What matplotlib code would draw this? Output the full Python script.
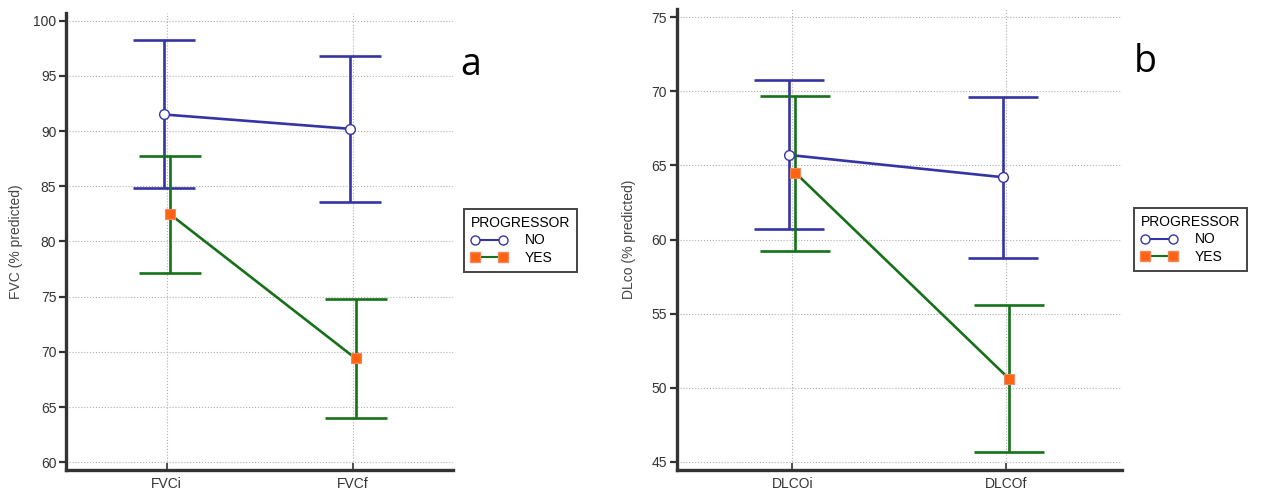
import matplotlib.pyplot as plt
import numpy as np
from matplotlib.lines import Line2D

plt.rcParams['font.family'] = ['Liberation Sans', 'DejaVu Sans']

# data (mean with lower / upper interval ends)
fvc_cats = ['FVCi', 'FVCf']
fvc_no_mean = [91.5, 90.2]
fvc_no_lo = [84.8, 83.55]
fvc_no_hi = [98.2, 96.8]
fvc_yes_mean = [82.5, 69.4]
fvc_yes_lo = [77.1, 64.0]
fvc_yes_hi = [87.7, 74.8]

dlco_cats = ['DLCOi', 'DLCOf']
dlco_no_mean = [65.7, 64.2]
dlco_no_lo = [60.7, 58.75]
dlco_no_hi = [70.75, 69.6]
dlco_yes_mean = [64.5, 50.6]
dlco_yes_lo = [59.25, 45.7]
dlco_yes_hi = [69.7, 55.6]

group_labels = ['NO', 'YES']

BLUE = '#3434a4'
GREEN = '#17701a'
ORANGE = '#ff6310'
SPINE = '#333333'


def draw_panel(ax, cats, no_mean, no_lo, no_hi, yes_mean, yes_lo, yes_hi,
               ylabel, ylim, yticks, capsize, offset, label_x):
    x = np.arange(len(cats))
    no_mean = np.array(no_mean)
    yes_mean = np.array(yes_mean)
    no_err = [no_mean - np.array(no_lo), np.array(no_hi) - no_mean]
    yes_err = [yes_mean - np.array(yes_lo), np.array(yes_hi) - yes_mean]

    # error bars and connecting lines
    ax.errorbar(x - offset, no_mean, yerr=no_err, color=BLUE, lw=1.9,
                elinewidth=1.9, capsize=capsize, capthick=1.9, zorder=3)
    ax.errorbar(x + offset, yes_mean, yerr=yes_err, color=GREEN, lw=1.9,
                elinewidth=1.9, capsize=capsize, capthick=1.9, zorder=4)
    # markers on top
    ax.plot(x - offset, no_mean, ls='none', marker='o', ms=7, mfc='white',
            mec=BLUE, mew=1.0, zorder=5)
    ax.plot(x + offset, yes_mean, ls='none', marker='s', ms=6.5, mfc=ORANGE,
            mec='#f08860', mew=0.8, zorder=6)

    ax.set_xlim(-0.54, 1.54)
    ax.set_ylim(*ylim)
    ax.set_yticks(yticks)
    ax.set_xticks(x)
    ax.set_xticklabels(cats)
    ax.grid(True, color='#b0b0b0', ls=':', lw=0.8)
    ax.set_axisbelow(True)
    for s in ['top', 'right']:
        ax.spines[s].set_visible(False)
    for s in ['left', 'bottom']:
        ax.spines[s].set_color(SPINE)
        ax.spines[s].set_linewidth(2.4)
    ax.tick_params(axis='y', direction='out', length=5, width=1.6,
                   colors=SPINE, labelsize=10, pad=2)
    ax.tick_params(axis='x', direction='in', length=5, width=1.2,
                   colors=SPINE, labelsize=10, pad=5)
    ax.set_ylabel(ylabel, fontsize=10, color='#444444')
    ax.yaxis.set_label_coords(label_x, 0.5)


fig = plt.figure(figsize=(12.82, 4.91), dpi=100)
ax1 = fig.add_axes([0.0515, 0.0428, 0.302, 0.931])
ax2 = fig.add_axes([0.528, 0.0428, 0.347, 0.939])

draw_panel(ax1, fvc_cats, fvc_no_mean, fvc_no_lo, fvc_no_hi,
           fvc_yes_mean, fvc_yes_lo, fvc_yes_hi,
           'FVC (% predicted)', (59.3, 100.7), np.arange(60, 101, 5),
           22, 0.016, -0.11)
draw_panel(ax2, dlco_cats, dlco_no_mean, dlco_no_lo, dlco_no_hi,
           dlco_yes_mean, dlco_yes_lo, dlco_yes_hi,
           'DLco (% predicted)', (44.46, 75.55), np.arange(45, 76, 5),
           25, 0.014, -0.092)

handles = [
    Line2D([0], [0], color=BLUE, lw=1.5, marker='o', ms=6.5, mfc='white', mec=BLUE),
    Line2D([0], [0], color=GREEN, lw=1.5, marker='s', ms=7, mfc=ORANGE, mec='#f08860'),
]
for anchor in [(464 / 1282, 1 - 209 / 491), (1134 / 1282, 1 - 208 / 491)]:
    leg = fig.legend(handles, group_labels, title='PROGRESSOR', loc='upper left',
                     bbox_to_anchor=anchor, numpoints=2, handlelength=2.6,
                     fontsize=10, title_fontsize=10, fancybox=False,
                     framealpha=1, edgecolor='#444444', borderpad=0.5,
                     labelspacing=0.25, handletextpad=1.3, borderaxespad=0)
    leg._legend_box.align = 'left'
    leg.get_frame().set_linewidth(1.4)

fig.text(460 / 1282, 1 - 65 / 491, 'a', fontsize=27, family='Open Sans',
         ha='left', va='center')
fig.text(1134 / 1282, 1 - 62 / 491, 'b', fontsize=27, family='Open Sans',
         ha='left', va='center')

fig.savefig('out.png', dpi=100)
